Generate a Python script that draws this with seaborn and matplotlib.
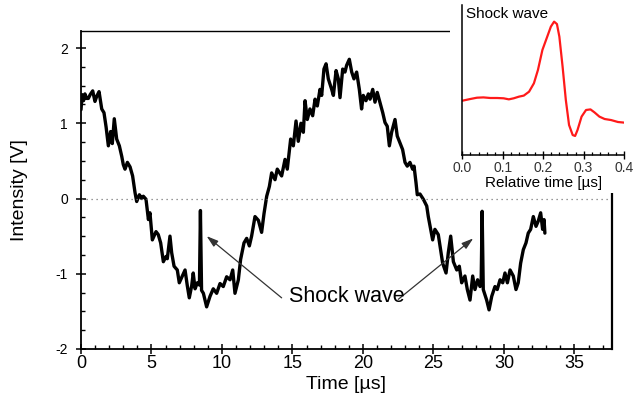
import numpy as np
import matplotlib
matplotlib.use("Agg")
import matplotlib.pyplot as plt
import seaborn as sns
from matplotlib.patches import Rectangle
from matplotlib.ticker import MultipleLocator

# main trace: time [us] -> intensity [V]
time_us = [
    0.00, 0.08, 0.18, 0.28, 0.40, 0.52, 0.65, 0.83, 0.99, 1.12, 1.28, 1.47, 1.63, 1.78, 1.94,
    2.10, 2.22, 2.36, 2.53, 2.72, 2.89, 3.00, 3.12, 3.29, 3.48, 3.66, 3.83, 3.95, 4.14, 4.30,
    4.42, 4.61, 4.78, 4.89, 5.06, 5.32, 5.48, 5.65, 5.84, 6.03, 6.12, 6.31, 6.43, 6.60, 6.83,
    6.97, 7.14, 7.38, 7.54, 7.68, 7.85, 7.96, 8.09, 8.25, 8.40, 8.47, 8.55, 8.68, 8.91, 9.15,
    9.38, 9.62, 9.86, 10.09, 10.33, 10.57, 10.76, 10.92, 11.16, 11.32, 11.56, 11.75, 11.94, 12.10, 12.34,
    12.58, 12.81, 12.98, 13.17, 13.36, 13.52, 13.76, 13.92, 14.23, 14.47, 14.63, 14.87, 15.06, 15.25, 15.41,
    15.60, 15.77, 15.89, 16.05, 16.24, 16.43, 16.60, 16.76, 16.95, 17.07, 17.23, 17.38, 17.54, 17.78, 17.90,
    18.09, 18.25, 18.37, 18.56, 18.72, 18.84, 19.03, 19.20, 19.36, 19.55, 19.74, 19.90, 20.02, 20.21, 20.38,
    20.50, 20.69, 20.85, 21.01, 21.20, 21.40, 21.56, 21.72, 21.87, 22.03, 22.27, 22.43, 22.62, 22.81, 22.98,
    23.14, 23.33, 23.52, 23.62, 23.76, 23.85, 24.04, 24.28, 24.52, 24.63, 24.94, 25.10, 25.34, 25.65, 25.89,
    26.05, 26.22, 26.41, 26.65, 26.83, 27.00, 27.23, 27.40, 27.59, 27.78, 27.94, 28.13, 28.30, 28.38, 28.45,
    28.53, 28.77, 28.94, 29.13, 29.36, 29.52, 29.72, 29.91, 30.07, 30.24, 30.43, 30.66, 30.85, 31.01, 31.18,
    31.37, 31.56, 31.72, 31.89, 32.08, 32.27, 32.43, 32.60, 32.74, 32.84, 32.90,
]
intensity_v = [
    1.18, 1.38, 1.30, 1.39, 1.33, 1.33, 1.38, 1.43, 1.29, 1.36, 1.42, 1.19, 1.14, 0.95, 0.70,
    0.89, 0.73, 1.06, 0.79, 0.70, 0.56, 0.45, 0.39, 0.48, 0.42, 0.30, 0.08, -0.04, 0.05, 0.00,
    0.03, -0.01, -0.28, -0.19, -0.55, -0.44, -0.48, -0.59, -0.84, -0.77, -0.80, -0.50, -0.72, -0.90, -0.95,
    -1.12, -1.05, -0.95, -1.16, -1.32, -1.16, -0.99, -1.20, -1.12, -1.15, -0.16, -1.22, -1.26, -1.44, -1.30,
    -1.20, -1.26, -1.13, -1.17, -1.04, -1.08, -0.95, -1.26, -1.08, -0.81, -0.59, -0.53, -0.63, -0.50, -0.24,
    -0.29, -0.45, -0.20, 0.03, 0.16, 0.34, 0.25, 0.39, 0.30, 0.52, 0.39, 0.79, 0.70, 1.03, 0.76,
    1.00, 0.88, 1.30, 1.05, 1.19, 1.10, 1.32, 1.23, 1.45, 1.37, 1.72, 1.79, 1.59, 1.45, 1.37,
    1.70, 1.59, 1.34, 1.72, 1.68, 1.77, 1.85, 1.68, 1.59, 1.68, 1.45, 1.19, 1.37, 1.30, 1.39,
    1.32, 1.45, 1.28, 1.41, 1.28, 1.14, 1.01, 0.96, 0.70, 0.88, 1.05, 0.83, 0.74, 0.65, 0.48,
    0.43, 0.48, 0.39, 0.43, 0.21, 0.05, 0.06, -0.01, -0.10, -0.24, -0.55, -0.41, -0.48, -0.86, -0.99,
    -0.72, -0.50, -0.84, -0.95, -0.90, -1.12, -1.03, -1.21, -1.35, -1.03, -1.21, -1.08, -1.17, -1.12, -0.17,
    -1.21, -1.35, -1.48, -1.30, -1.17, -1.21, -1.08, -1.12, -0.99, -1.12, -0.95, -1.03, -1.21, -1.12, -0.86,
    -0.68, -0.59, -0.46, -0.41, -0.24, -0.37, -0.30, -0.19, -0.41, -0.28, -0.46,
]

# inset: single shock wave, relative time [us] -> amplitude (arb.)
rel_time = [0.000, 0.019, 0.036, 0.052, 0.069, 0.086, 0.102, 0.115, 0.127, 0.140, 0.152, 0.165,
            0.177, 0.187, 0.198, 0.210, 0.219, 0.227, 0.234, 0.240, 0.248, 0.256, 0.264, 0.273,
            0.279, 0.285, 0.295, 0.306, 0.317, 0.327, 0.339, 0.352, 0.368, 0.385, 0.400]
rel_amp = [0.362, 0.373, 0.382, 0.384, 0.380, 0.380, 0.378, 0.371, 0.378, 0.389, 0.396, 0.422,
           0.478, 0.567, 0.700, 0.789, 0.856, 0.889, 0.873, 0.789, 0.589, 0.367, 0.200, 0.133,
           0.127, 0.167, 0.256, 0.300, 0.304, 0.284, 0.256, 0.240, 0.233, 0.220, 0.216]

x_ticks = [0, 5, 10, 15, 20, 25, 30, 35]
y_ticks = [-2, -1, 0, 1, 2]
inset_ticks = [0.0, 0.1, 0.2, 0.3, 0.4]

sns.set_style("ticks")
plt.rcParams["font.family"] = ["Liberation Sans", "DejaVu Sans"]
plt.rcParams["axes.unicode_minus"] = False
plt.rcParams["text.color"] = "black"
plt.rcParams["axes.labelcolor"] = "black"
plt.rcParams["xtick.color"] = "black"
plt.rcParams["ytick.color"] = "black"

W, H = 636, 407
fig = plt.figure(figsize=(W / 100, H / 100), dpi=100)
ax = fig.add_axes([81 / W, 58 / H, 531 / W, 318 / H])

sns.lineplot(x=time_us, y=intensity_v, ax=ax, color="black", lw=2.4, estimator=None, sort=False)
ax.axhline(0, color="#777777", ls=(0, (1, 3)), lw=0.9)

ax.set_xlim(0, 37.66)
ax.set_ylim(-2, 2.226)
ax.set_xticks(x_ticks)
ax.set_yticks(y_ticks)
ax.xaxis.set_minor_locator(MultipleLocator(1))
ax.yaxis.set_minor_locator(MultipleLocator(0.25))
ax.tick_params(which="both", bottom=True, left=True, top=False, right=False)
ax.tick_params(which="major", direction="inout", length=7, width=1.1, color="black")
ax.tick_params(which="minor", direction="in", length=3, width=1.0, color="black")
ax.tick_params(axis="x", which="major", labelsize=13, pad=1)
ax.tick_params(axis="y", which="major", labelsize=10, pad=6)
for side, w in [("left", 1.3), ("bottom", 1.3), ("top", 1.0), ("right", 1.6)]:
    ax.spines[side].set_visible(True)
    ax.spines[side].set_linewidth(w)
    ax.spines[side].set_color("black")

ax.set_xlabel("Time [µs]", fontsize=14)
ax.set_ylabel("Intensity [V]", fontsize=14)
ax.xaxis.set_label_coords(0.5, -0.085)
ax.yaxis.set_label_coords(-0.10, 0.5)

arrow = dict(arrowstyle="-|>,head_length=0.7,head_width=0.22", color="#333333", lw=0.9, shrinkA=0, shrinkB=0)
ax.annotate("", xy=(8.91, -0.50), xytext=(14.23, -1.32), arrowprops=arrow)
ax.annotate("", xy=(27.82, -0.53), xytext=(22.5, -1.34), arrowprops=arrow)
ax.text(18.85, -1.30, "Shock wave", fontsize=15.5, ha="center", va="center")

# white block that hides the top-right corner of the main frame
fig.add_artist(Rectangle((450 / W, 214 / H), 186 / W, 193 / H, transform=fig.transFigure,
                         facecolor="white", edgecolor="none", zorder=5))

ax2 = fig.add_axes([462.4 / W, (H - 155) / H, 161.6 / W, 150 / H])
ax2.set_zorder(6)
ax2.patch.set_visible(False)
sns.lineplot(x=rel_time, y=rel_amp, ax=ax2, color="#ff1a1a", lw=1.6, estimator=None, sort=False)
ax2.set_xlim(0, 0.4)
ax2.set_ylim(0, 1)
ax2.set_xticks(inset_ticks)
ax2.set_xticklabels([f"{t:.1f}" for t in inset_ticks])
ax2.xaxis.set_minor_locator(MultipleLocator(0.02))
ax2.set_yticks([])
ax2.tick_params(which="both", bottom=True, left=False, top=False, right=False)
ax2.tick_params(axis="x", which="major", direction="inout", length=6, width=1.0, labelsize=10,
                labelcolor="#333333", pad=1)
ax2.tick_params(axis="x", which="minor", direction="in", length=2.5, width=0.9)
ax2.spines["top"].set_visible(False)
ax2.spines["right"].set_visible(False)
ax2.spines["left"].set_linewidth(1.1)
ax2.spines["bottom"].set_linewidth(1.1)
ax2.spines["left"].set_color("black")
ax2.spines["bottom"].set_color("black")
ax2.set_xlabel("Relative time [µs]", fontsize=11, labelpad=1)
ax2.set_ylabel("")
ax2.text(0.02, 0.985, "Shock wave", transform=ax2.transAxes, fontsize=11, ha="left", va="top")

fig.savefig("out.png", dpi=100)
plt.close("all")
